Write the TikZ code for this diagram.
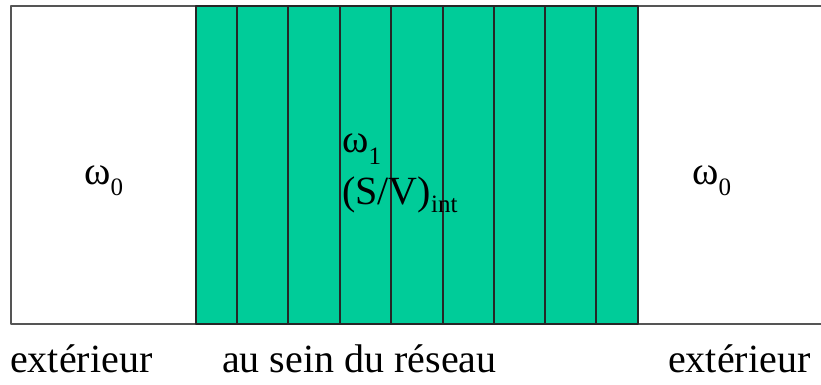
\documentclass[tikz,border=0pt]{standalone}
\usepackage{fontspec}
\setmainfont{Liberation Serif}
\definecolor{reseau}{RGB}{0,204,153}
\definecolor{bordgris}{RGB}{85,85,85}
\newcommand{\indice}[2]{\raisebox{-#1}{\fontsize{25}{25}\selectfont #2}}
\tikzset{
  texte/.style={anchor=base west,inner sep=0pt,font=\fontsize{40}{48}\selectfont},
  grec/.style={anchor=base west,inner sep=0pt,font=\fontsize{40}{48}\selectfont},
  trait/.style={line width=1.8pt,black!85},
  bord/.style={line width=1.8pt,bordgris}
}
\begin{document}
\begin{tikzpicture}[x=1pt,y=1pt,line join=round]
	\def \xmin{11}
	\def \xmax{821}
	\def \ymin{61}
	\def \ymax{379}
	\def \xg{196}
	\def \xd{638}
	\useasboundingbox (0,0) rectangle (821,385);
	\fill[white] (0,0) rectangle (821,385);
	\fill[reseau] (\xg,\ymin) rectangle (\xd,\ymax);
	\draw[bord] (\xmax,\ymax) -- (\xmin,\ymax) -- (\xmin,\ymin) -- (\xmax,\ymin);
	\foreach \x in {237,288,340,391,443,494,545,596}
		\draw[trait] (\x,\ymin) -- (\x,\ymax);
	\draw[trait] (\xg,\ymin) rectangle (\xd,\ymax);
	% zones
	\node[grec] (omegaG) at (84,200) {ω\indice{11pt}{0}};
	\node[grec] (omegaR) at (342,232) {ω\indice{12pt}{1}};
	\node[texte] (rapport) at (342,180) {(S/V)\indice{8pt}{int}};
	\node[grec] (omegaD) at (692,200) {ω\indice{11pt}{0}};
	% legendes
	\node[texte] (extG) at (10,12) {extérieur};
	\node[texte] (sein) at (222,12) {au sein du réseau};
	\node[texte] (extD) at (668,12) {extérieur};
\end{tikzpicture}
\end{document}
